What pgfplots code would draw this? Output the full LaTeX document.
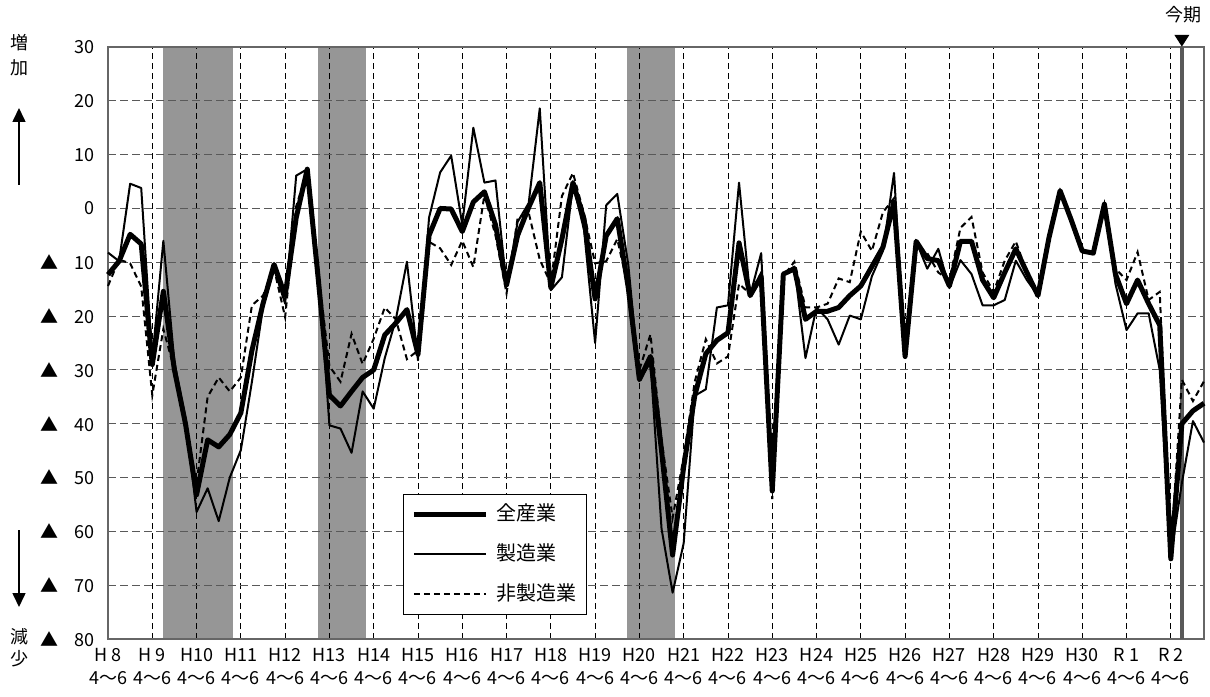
\documentclass[border=0pt]{standalone}
\usepackage{fontspec}
\setmainfont{Noto Sans CJK JP}
\usepackage{pgfplots}
\pgfplotsset{compat=1.18}
\usetikzlibrary{calc,arrows.meta}

% x = quarter index, 0 = H8 4-6 ... 96 = R2 4-6, 97 = 今期
\pgfplotstableread{
q  all    mfg    non
0  -12.3  -8.2   -14.4
1  -9.8   -9.8   -9.5
2  -4.8   4.6    -10.2
3  -6.6   3.8    -14.5
4  -29.0  -28.0  -34.7
5  -15.4  -6.0   -22.4
6  -30.0  -28.6  -30.0
7  -40.0  -39.0  -39.8
8  -53.2  -56.4  -51.0
9  -43.0  -52.0  -35.0
10 -44.3  -58.1  -31.4
11 -42.0  -50.0  -34.0
12 -38.0  -44.9  -31.4
13 -26.4  -32.2  -18.0
14 -17.7  -18.4  -16.2
15 -10.4  -11.2  -11.2
16 -16.2  -17.7  -20.2
17 -1.7   6.1    0.4
18 7.3    7.3    7.0
19 -13.3  -11.2  -12.0
20 -34.7  -40.3  -29.3
21 -36.7  -40.9  -32.2
22 -34.0  -45.4  -23.3
23 -31.4  -34.0  -28.9
24 -30.0  -37.2  -24.2
25 -23.5  -27.8  -18.4
26 -21.3  -20.6  -20.6
27 -18.8  -9.9   -28.0
28 -27.1  -28.2  -26.4
29 -5.0   -1.7   -6.2
30 0.0    6.7    -7.4
31 -0.1   9.8    -10.5
32 -4.3   -3.0   -6.0
33 1.2    15.0   -10.9
34 3.1    4.8    2.5
35 -3.0   5.2    -5.0
36 -14.2  -14.4  -15.8
37 -5.0   -2.5   -1.8
38 0.2    1.0    -0.8
39 4.8    18.6   -9.5
40 -14.7  -15.2  -14.0
41 -5.7   -12.8  2.3
42 4.8    4.5    6.6
43 -2.0   -4.0   -1.0
44 -16.8  -25.0  -10.2
45 -5.1   0.6    -9.8
46 -1.9   2.7    -5.7
47 -14.8  -10.5  -14.8
48 -31.8  -32.0  -30.0
49 -27.5  -28.6  -23.4
50 -45.0  -59.5  -43.0
51 -64.4  -71.4  -57.5
52 -48.0  -62.2  -46.2
53 -34.8  -34.8  -32.2
54 -27.0  -33.6  -24.3
55 -24.5  -18.4  -28.8
56 -23.1  -18.0  -27.5
57 -6.4   4.8    -14.0
58 -16.2  -16.2  -15.9
59 -12.6  -8.3   -11.9
60 -52.5  -50.3  -54.0
61 -12.2  -12.2  -12.6
62 -11.2  -10.8  -9.9
63 -20.6  -27.8  -18.4
64 -19.1  -18.4  -18.4
65 -19.1  -20.6  -17.7
66 -18.4  -25.3  -13.0
67 -16.2  -19.9  -13.7
68 -14.4  -20.6  -4.3
69 -10.8  -12.6  -7.9
70 -7.2   -7.9   -0.7
71 1.2    6.6    1.9
72 -27.5  -27.8  -27.5
73 -6.1   -6.1   -6.8
74 -9.3   -11.2  -8.3
75 -9.7   -7.5   -11.9
76 -14.4  -14.8  -13.3
77 -6.1   -9.6   -3.6
78 -6.1   -12.2  -1.6
79 -13.3  -18.0  -11.9
80 -16.6  -18.0  -15.5
81 -11.9  -17.0  -9.7
82 -7.5   -9.7   -6.1
83 -11.9  -13.3  -11.9
84 -16.2  -16.2  -16.2
85 -5.4   -5.4   -5.4
86 3.3    3.3    3.3
87 -2.1   -2.1   -2.1
88 -7.9   -7.9   -7.9
89 -8.3   -8.3   -8.3
90 0.8    0.8    0.8
91 -12.2  -14.0  -11.2
92 -17.7  -22.6  -13.3
93 -13.3  -19.5  -8.1
94 -17.7  -19.5  -17.0
95 -21.7  -30.0  -15.5
96 -65.1  -64.7  -64.0
97 -40.0  -51.0  -31.8
98 -37.6  -39.5  -35.8
99 -36.2  -43.5  -32.1
}\bsi

\newcommand\ngl[1]{\makebox[27bp]{▲\hfill#1}}
\newcommand\psl[1]{\makebox[27bp][r]{#1}}

\begin{document}
\begin{tikzpicture}
\begin{axis}[name=ax, set layers, scale only axis,
  width=548bp, height=296bp,
  xmin=0, xmax=99, ymin=-80, ymax=30,
  xtick={0,4,...,96},
  xticklabels={{H 8\\4～6},{H 9\\4～6},{H10\\4～6},{H11\\4～6},{H12\\4～6},
    {H13\\4～6},{H14\\4～6},{H15\\4～6},{H16\\4～6},{H17\\4～6},{H18\\4～6},
    {H19\\4～6},{H20\\4～6},{H21\\4～6},{H22\\4～6},{H23\\4～6},{H24\\4～6},
    {H25\\4～6},{H26\\4～6},{H27\\4～6},{H28\\4～6},{H29\\4～6},{H30\\4～6},
    {R 1\\4～6},{R 2\\4～6}},
  ytick={-80,-70,...,30},
  yticklabels={\ngl{80},\ngl{70},\ngl{60},\ngl{50},\ngl{40},\ngl{30},\ngl{20},
    \ngl{10},\psl{0},\psl{10},\psl{20},\psl{30}},
  major tick length=0pt,
  grid=major,
  x grid style={black, line width=0.4bp, dash pattern=on 3bp off 2bp},
  y grid style={black!65, line width=0.5bp, dash pattern=on 4bp off 2bp},
  axis line style={black!60, line width=0.8bp},
  tick label style={font=\fontsize{9bp}{11.5bp}\selectfont, inner sep=0pt},
  yticklabel style={xshift=-6.5bp},
  xticklabel style={align=center, yshift=-4.5bp},
  clip=false,
  legend cell align=left,
  legend style={at={(0.269,0.0405)}, anchor=south west, draw=black,
    line width=0.6bp, fill=white, inner xsep=4bp, inner ysep=4.5bp,
    row sep=9bp, column sep=3bp,
    font=\fontsize{10bp}{10bp}\selectfont,
    nodes={inner sep=1bp, text height=7.5bp, text depth=1.5bp}},
  legend image code/.code={\draw[#1] (0bp,0bp) -- (36bp,0bp);},
]
% recession shading
\addplot[forget plot, on layer=axis background, fill=black!41, draw=none]
  coordinates {(5,-80) (5,30) (11.3,30) (11.3,-80)};
\addplot[forget plot, on layer=axis background, fill=black!41, draw=none]
  coordinates {(19,-80) (19,30) (23.3,30) (23.3,-80)};
\addplot[forget plot, on layer=axis background, fill=black!41, draw=none]
  coordinates {(46.9,-80) (46.9,30) (51.2,30) (51.2,-80)};
% current quarter
\addplot[forget plot, black!65, line width=2bp] coordinates {(97,-80) (97,30)};

\addplot[black, line width=2.5bp, line join=round] table[x=q, y=all] {\bsi};
\addlegendentry{全産業}
\addplot[black, line width=1bp, line join=round] table[x=q, y=mfg] {\bsi};
\addlegendentry{製造業}
\addplot[black, line width=1bp, dash pattern=on 3bp off 2bp] table[x=q, y=non] {\bsi};
\addlegendentry{非製造業}

\fill ([yshift=0.2bp]axis cs:97,30) -- ++(-3.75bp,5.85bp) -- ++(7.5bp,0bp) -- cycle;
\node[font=\fontsize{9bp}{9bp}\selectfont, inner sep=0pt]
  at ([xshift=1bp, yshift=16bp]axis cs:97,30) {今期};
\end{axis}

\begin{scope}[font=\fontsize{9bp}{9bp}\selectfont, inner sep=0pt]
\node at ($(ax.south west)+(-44bp,298bp)$) {増};
\node at ($(ax.south west)+(-44bp,285.5bp)$) {加};
\draw[line width=0.8bp, -{Triangle[width=6.5bp,length=7bp]}]
  ($(ax.south west)+(-44.5bp,227bp)$) -- ($(ax.south west)+(-44.5bp,265.5bp)$);
\draw[line width=0.8bp, -{Triangle[width=6.5bp,length=7bp]}]
  ($(ax.south west)+(-44.5bp,54.5bp)$) -- ($(ax.south west)+(-44.5bp,16bp)$);
\node at ($(ax.south west)+(-44bp,1bp)$) {減};
\node at ($(ax.south west)+(-44bp,-10bp)$) {少};
\end{scope}

\pgfresetboundingbox
\path[use as bounding box] ($(ax.south west)+(-54bp,-28.5bp)$)
  rectangle ($(ax.north east)+(3bp,23.5bp)$);
\end{tikzpicture}
\end{document}
